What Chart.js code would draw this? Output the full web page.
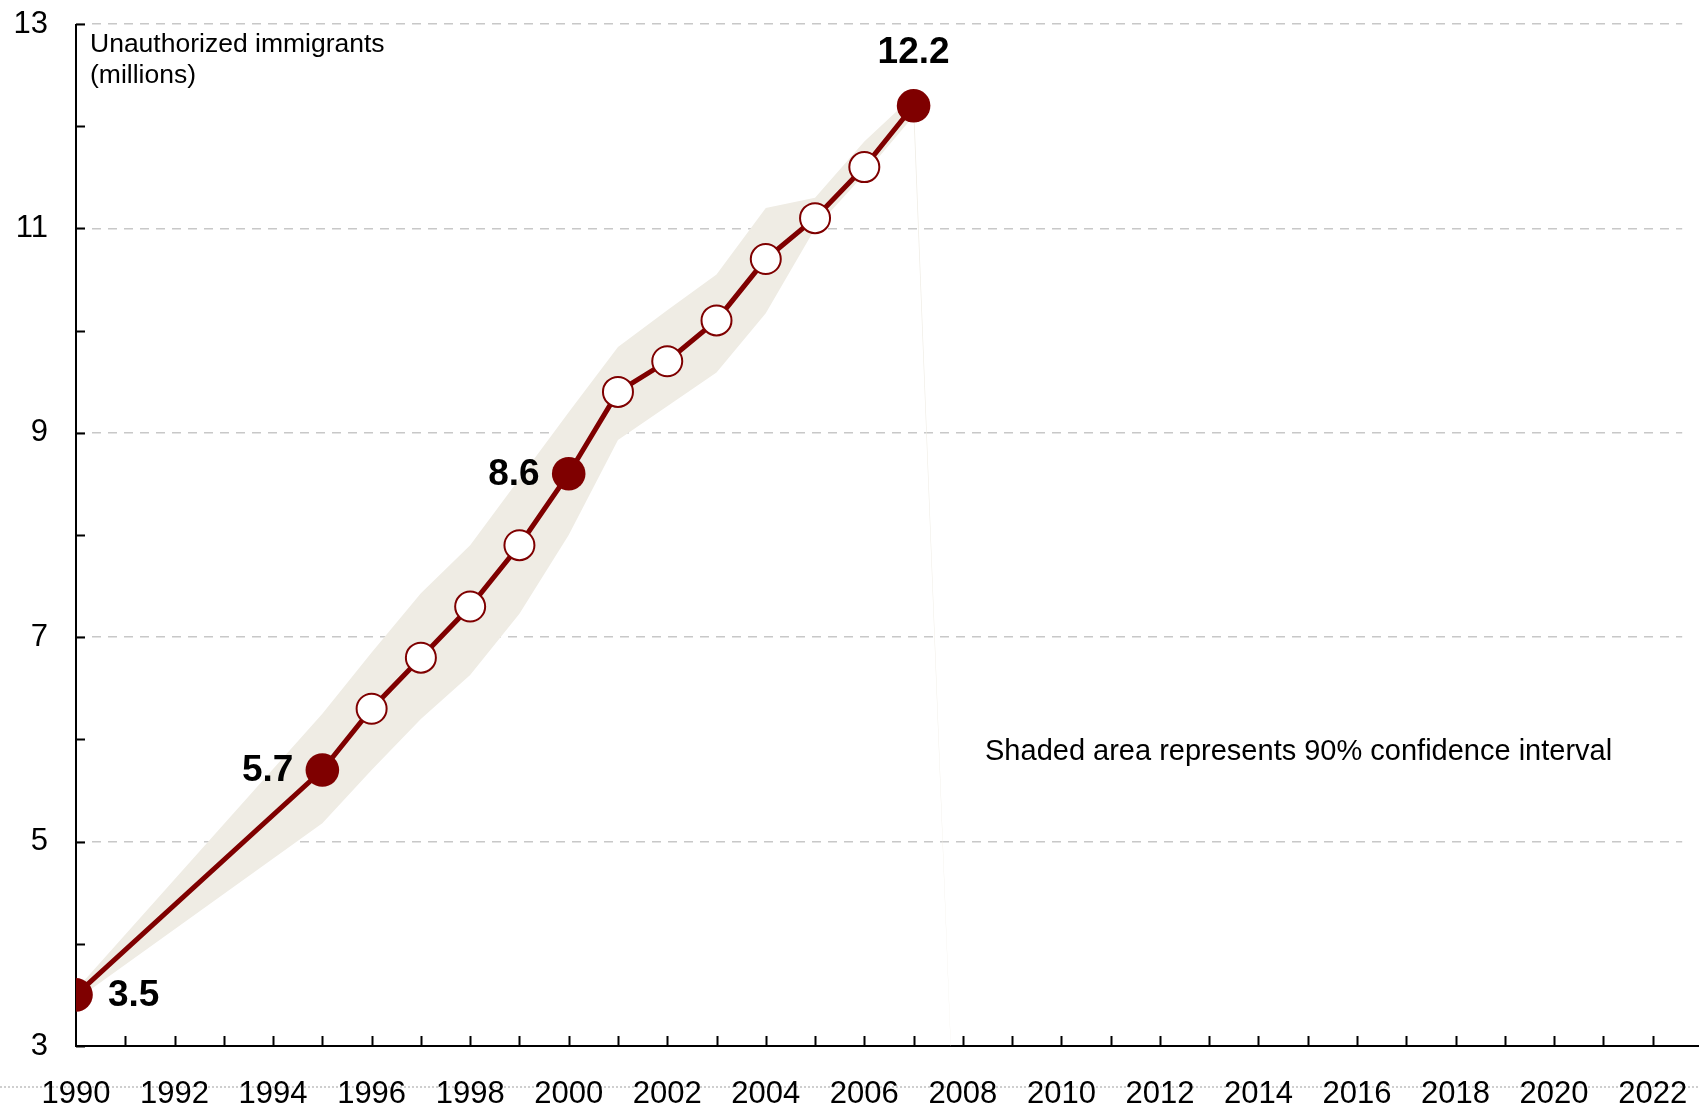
<!DOCTYPE html>
<html>
<head>
<meta charset="utf-8">
<script src="https://cdn.jsdelivr.net/npm/chart.js@4/dist/chart.umd.min.js"></script>
<style>
  html, body { margin: 0; padding: 0; background: #fff; }
  #wrap { width: 1699px; height: 1110px; }
</style>
</head>
<body>
<div id="wrap"><canvas id="my_chart" width="1699" height="1110"></canvas></div>
<script>
// estimated unauthorized immigrant population (millions)
var years = [1990, 1995, 1996, 1997, 1998, 1999, 2000, 2001, 2002, 2003, 2004, 2005, 2006, 2007];
var immigrants = [3.5, 5.7, 6.3, 6.8, 7.3, 7.9, 8.6, 9.4, 9.7, 10.1, 10.7, 11.1, 11.6, 12.2];

// 90% confidence band (the band drops to 0 after 2007, which leaves the thin sliver)
var bandYears = [1990, 1995, 1996, 1997, 1998, 1999, 2000, 2001, 2002, 2003, 2004, 2005, 2006, 2007, 2008];
var bandUpper = [3.55, 6.25, 6.85, 7.43, 7.9, 8.55, 9.2, 9.84, 10.2, 10.55, 11.2, 11.3, 11.85, 12.3, 0];
var bandLower = [3.45, 5.18, 5.7, 6.2, 6.63, 7.23, 8.0, 8.93, 9.26, 9.59, 10.17, 11.0, 11.53, 12.1, 0];

// years whose points are solid and labelled
var highlighted = [1990, 1995, 2000, 2007];

var xTickYears = [];
for (var ty = 1990; ty <= 2022; ty++) xTickYears.push(ty);
var yLabels = [3, 5, 7, 9, 11, 13];

var MAROON = "#7f0000";
var BAND = "#efece4";
var FONT = "'Liberation Sans', Arial, sans-serif";

function toPoints(xs, ys) {
    var out = [];
    for (var i = 0; i < xs.length; i++) out.push({x: xs[i], y: ys[i]});
    return out;
}

var pointFill = years.map(function (y) { return highlighted.indexOf(y) >= 0 ? MAROON : "#ffffff"; });
var pointR = years.map(function (y) { return highlighted.indexOf(y) >= 0 ? 16.8 : 15; });
var pointBW = years.map(function (y) { return highlighted.indexOf(y) >= 0 ? 0 : 2; });

var decorations = {
    id: "decorations",
    beforeDraw: function (chart) {
        var ctx = chart.ctx;
        var a = chart.chartArea;
        // faint dotted rule behind the year labels
        ctx.save();
        ctx.strokeStyle = "#cfcfcf";
        ctx.lineWidth = 2;
        ctx.setLineDash([2, 2]);
        ctx.beginPath();
        ctx.moveTo(0, a.bottom + 41);
        ctx.lineTo(chart.width, a.bottom + 41);
        ctx.stroke();
        ctx.restore();
    },
    beforeDatasetsDraw: function (chart) {
        var ctx = chart.ctx;
        var a = chart.chartArea;
        var xs = chart.scales.x;
        var ys = chart.scales.y;
        ctx.save();
        ctx.strokeStyle = "#000";
        ctx.lineWidth = 2;
        ctx.beginPath();
        ctx.moveTo(a.left, a.top);
        ctx.lineTo(a.left, a.bottom);
        ctx.lineTo(chart.width, a.bottom);
        ctx.stroke();
        // inward ticks
        ctx.beginPath();
        for (var v = ys.min; v <= ys.max; v++) {
            var py = Math.round(ys.getPixelForValue(v)) + 0.5;
            ctx.moveTo(a.left, py);
            ctx.lineTo(a.left + 9, py);
        }
        for (var k = 1; k < xTickYears.length; k++) {
            var px = Math.round(xs.getPixelForValue(xTickYears[k])) + 0.5;
            ctx.moveTo(px, a.bottom);
            ctx.lineTo(px, a.bottom - 10);
        }
        ctx.stroke();

        // axis caption
        ctx.fillStyle = "#000";
        ctx.font = "26.5px " + FONT;
        ctx.textAlign = "left";
        ctx.textBaseline = "middle";
        ctx.fillText("Unauthorized immigrants", a.left + 14, a.top + 21);
        ctx.fillText("(millions)", a.left + 14, a.top + 52);
        ctx.restore();
    },
    afterDatasetsDraw: function (chart) {
        var ctx = chart.ctx;
        var xs = chart.scales.x;
        var ys = chart.scales.y;
        ctx.save();
        ctx.fillStyle = "#000";
        ctx.textBaseline = "middle";
        ctx.font = "bold 37px " + FONT;
        for (var i = 0; i < years.length; i++) {
            if (highlighted.indexOf(years[i]) < 0) continue;
            var px = xs.getPixelForValue(years[i]);
            var py = ys.getPixelForValue(immigrants[i]);
            var txt = immigrants[i].toFixed(1);
            if (i === 0) {
                ctx.textAlign = "left";
                ctx.fillText(txt, px + 32, py + 1);
            } else if (i === years.length - 1) {
                ctx.textAlign = "center";
                ctx.fillText(txt, px, py - 53);
            } else {
                ctx.textAlign = "right";
                ctx.fillText(txt, px - 29, py + 1);
            }
        }
        ctx.font = "29px " + FONT;
        ctx.textAlign = "left";
        ctx.fillText("Shaded area represents 90% confidence interval",
            xs.getPixelForValue(2008.45), ys.getPixelForValue(5.88));
        ctx.restore();
    }
};

var ctx = document.getElementById("my_chart").getContext("2d");

new Chart(ctx, {
    type: "line",
    data: {
        datasets: [{
            data: toPoints(years, immigrants),
            borderColor: MAROON,
            borderWidth: 5,
            fill: false,
            tension: 0,
            pointBackgroundColor: pointFill,
            pointBorderColor: MAROON,
            pointBorderWidth: pointBW,
            pointRadius: pointR,
            order: 0
        }, {
            data: toPoints(bandYears, bandUpper),
            borderWidth: 0,
            borderColor: "rgba(0,0,0,0)",
            backgroundColor: BAND,
            pointRadius: 0,
            fill: "+1",
            tension: 0,
            order: 1
        }, {
            data: toPoints(bandYears, bandLower),
            borderWidth: 0,
            borderColor: "rgba(0,0,0,0)",
            pointRadius: 0,
            fill: false,
            tension: 0,
            order: 2
        }]
    },
    options: {
        responsive: false,
        animation: false,
        layout: {
            padding: {top: 24, right: 0, left: 0, bottom: 0}
        },
        plugins: {
            legend: { display: false },
            tooltip: { enabled: false }
        },
        scales: {
            x: {
                type: "linear",
                min: 1990,
                max: 2022.6,
                afterBuildTicks: function (scale) {
                    scale.ticks = xTickYears.map(function (v) { return {value: v}; });
                },
                afterFit: function (scale) { scale.height = 64; },
                grid: { display: false, drawTicks: true, tickLength: 30, tickColor: "rgba(0,0,0,0)" },
                border: { display: false },
                ticks: {
                    autoSkip: false,
                    maxRotation: 0,
                    padding: 0,
                    color: "#000",
                    font: { family: FONT, size: 31 },
                    callback: function (v) { return (v % 2 === 0) ? String(v) : ""; }
                }
            },
            y: {
                min: 3,
                max: 13,
                afterFit: function (scale) { scale.width = 76; },
                grid: {
                    drawTicks: true,
                    tickLength: 28,
                    tickColor: "rgba(0,0,0,0)",
                    lineWidth: 1.5,
                    color: function (c) {
                        var v = c.tick ? c.tick.value : null;
                        return (yLabels.indexOf(v) > 0) ? "#c8c8c8" : "rgba(0,0,0,0)";
                    }
                },
                border: { display: false, dash: [9, 7] },
                ticks: {
                    stepSize: 1,
                    padding: 0,
                    color: "#000",
                    font: { family: FONT, size: 31 },
                    callback: function (v) { return yLabels.indexOf(v) >= 0 ? String(v) : ""; }
                }
            }
        }
    },
    plugins: [decorations]
});
</script>
</body>
</html>
